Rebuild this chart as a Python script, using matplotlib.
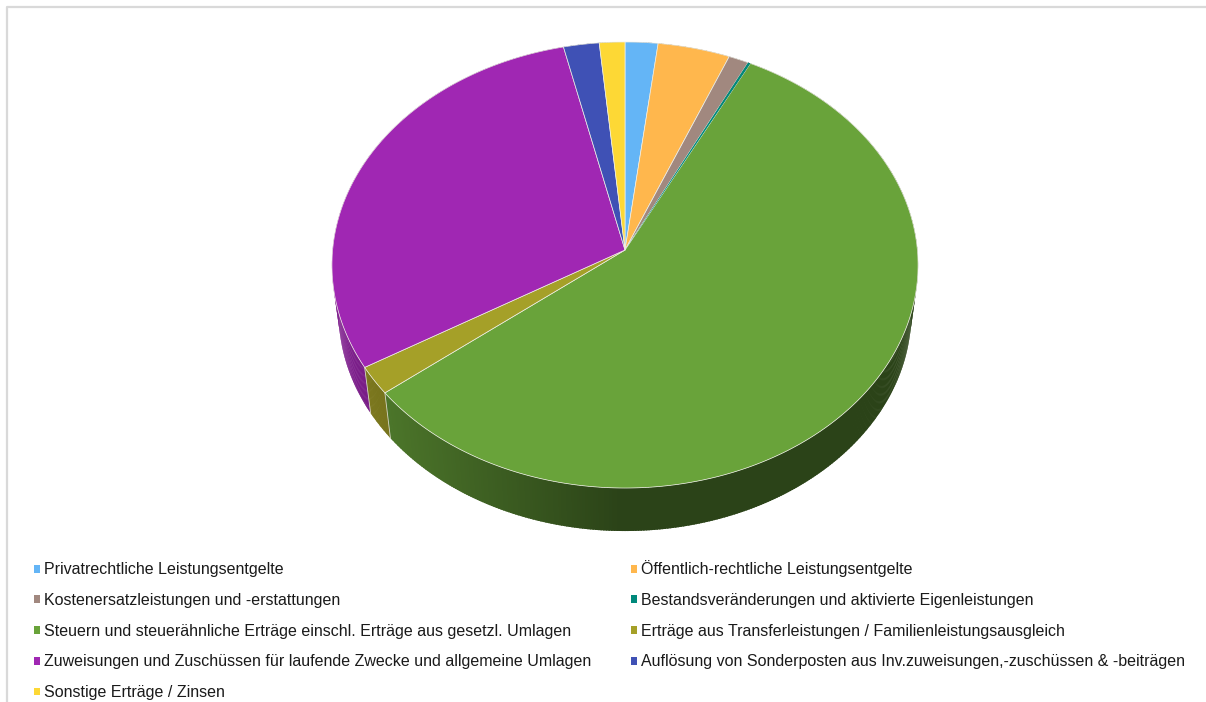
import numpy as np
from matplotlib import pyplot as plt
from matplotlib.colors import to_rgb
from matplotlib.patches import Patch

plt.rcParams['font.family'] = ['Liberation Sans', 'DejaVu Sans']

labels = ['Privatrechtliche Leistungsentgelte',
          'Öffentlich-rechtliche Leistungsentgelte',
          'Kostenersatzleistungen und -erstattungen',
          'Bestandsveränderungen und aktivierte Eigenleistungen',
          'Steuern und steuerähnliche Erträge einschl. Erträge aus gesetzl. Umlagen',
          'Erträge aus Transferleistungen / Familienleistungsausgleich',
          'Zuweisungen und Zuschüssen für laufende Zwecke und allgemeine Umlagen',
          'Auflösung von Sonderposten aus Inv.zuweisungen,-zuschüssen & -beiträgen',
          'Sonstige Erträge / Zinsen']
values = [1.93, 4.25, 1.18, 0.15, 56.91, 2.05, 29.93, 2.1, 1.5]
colors = ['#64B5F6', '#FFB74D', '#A1887F', '#00897B', '#69A33A',
          '#A5A028', '#A027B3', '#3F51B5', '#FDD835']

# pie geometry in figure pixels
cx, cy = 625, 250
A, B, k = 292.4, 222.0, 0.0673


def rim(theta):
    # theta clockwise from the top, perspective view of a circle
    X, Y = np.sin(theta), np.cos(theta)
    return cx + A*X/(1+k*Y), cy - B*Y/(1+k*Y)


def rimBottom(theta):
    x, y = rim(theta)
    return cx + (x-cx)*0.977, cy + (y-cy)*0.977 + 48.5


def shade(color, x):
    f = np.interp(x, [333, 385, 620, 918], [0.8, 0.72, 0.41, 0.41])
    return tuple(np.array(to_rgb(color))*f)


fig = plt.figure(figsize=(12.06, 7.02), dpi=100)
ax = fig.add_axes([0, 0, 1, 1])
ax.set_xlim(0, 1206)
ax.set_ylim(702, 0)
ax.axis('off')

# chart frame, only top and left survive in the crop
ax.plot([7, 7, 1206], [702, 7, 7], color='#d9d9d9', lw=1.6, zorder=1)

edges = np.cumsum([0] + values)/sum(values)*2*np.pi

# side wall, each strip overlaps the next so no seams show
for i, color in enumerate(colors):
    steps = max(2, int(np.degrees(edges[i+1]-edges[i])*2))
    ts = np.linspace(edges[i], edges[i+1], steps+1)
    dt = ts[1]-ts[0]
    for t0 in ts[:-1]:
        t1 = t0 + dt*1.6
        x0, y0 = rim(t0)
        x1, y1 = rim(t1)
        x2, y2 = rimBottom(t1)
        x3, y3 = rimBottom(t0)
        c = shade(color, (x0+x1)/2)
        ax.fill([x0, x1, x2, x3], [y0, y1, y2, y3], color=c, lw=0, zorder=2)
    x0, y0 = rim(edges[i])
    x3, y3 = rimBottom(edges[i])
    if np.cos(edges[i]) < -0.3 and x0 < cx:
        ax.plot([x0, x3], [y0, y3], color='#d8d8c8', lw=0.6, zorder=3)

# top face, the tiny slice goes on top without an edge or it would vanish
for i, color in enumerate(colors):
    ts = np.linspace(edges[i], edges[i+1], max(3, int(np.degrees(edges[i+1]-edges[i]))*2))
    x, y = rim(ts)
    tiny = values[i] < 0.5
    ax.fill(np.r_[cx, x], np.r_[cy, y], facecolor=color, edgecolor='#f0f0e8',
            lw=0 if tiny else 0.5, joinstyle='round', zorder=5 if tiny else 4)

# legend is column-first, reference reads row by row
order = [0, 2, 4, 6, 8, 1, 3, 5, 7]
handles = [Patch(facecolor=colors[i], edgecolor='none') for i in order]
ax.legend(handles, [labels[i] for i in order], ncol=2, frameon=False,
          loc='upper left', bbox_to_anchor=(27.6/1206, 1-554/702),
          fontsize=11.54, labelcolor='#1a1a1a', handlelength=0.375, handleheight=0.375,
          handletextpad=0.25, labelspacing=0.98, columnspacing=2.5,
          borderpad=0.4, borderaxespad=0)

fig.savefig('out.png', dpi=100)
